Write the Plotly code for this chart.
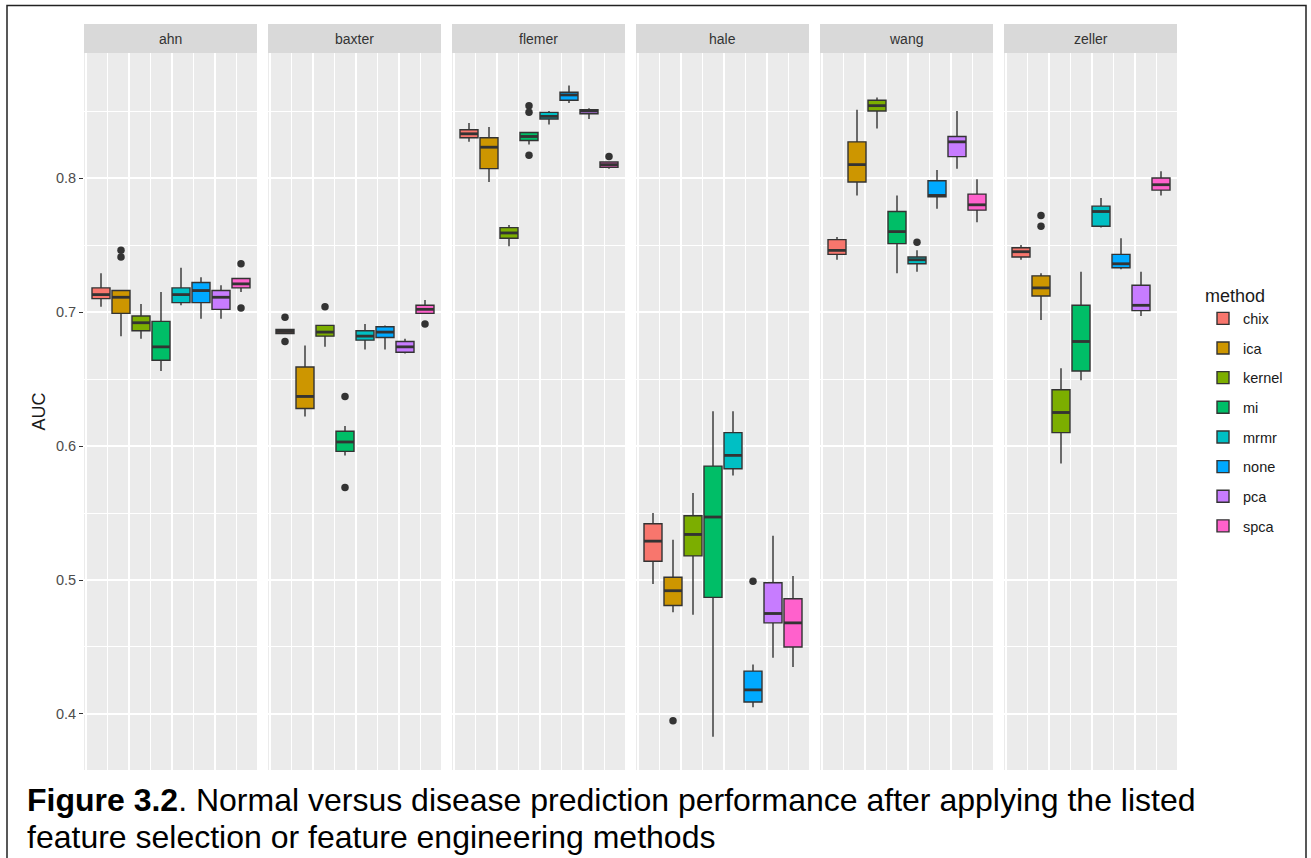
import plotly.graph_objects as go

DATASETS = ["ahn", "baxter", "flemer", "hale", "wang", "zeller"]
METHODS = ["chix", "ica", "kernel", "mi", "mrmr", "none", "pca", "spca"]
COLORS = ["#F8766D", "#CD9600", "#7CAE00", "#00BE67", "#00BFC4", "#00A9FF", "#C77CFF", "#FF61CC"]

# rows: datasets, columns: methods
LOWER = [
    [0.704, 0.682, 0.680, 0.656, 0.705, 0.695, 0.695, 0.715],
    [0.684, 0.622, 0.674, 0.593, 0.672, 0.672, 0.669, 0.699],
    [0.827, 0.797, 0.749, 0.825, 0.840, 0.856, 0.844, 0.807],
    [0.497, 0.476, 0.474, 0.383, 0.578, 0.405, 0.442, 0.435],
    [0.739, 0.787, 0.837, 0.729, 0.730, 0.777, 0.807, 0.767],
    [0.739, 0.694, 0.587, 0.649, 0.763, 0.732, 0.697, 0.787],
]
Q1 = [
    [0.710, 0.699, 0.686, 0.664, 0.707, 0.707, 0.702, 0.718],
    [0.684, 0.628, 0.682, 0.596, 0.679, 0.681, 0.670, 0.699],
    [0.830, 0.807, 0.755, 0.828, 0.844, 0.858, 0.848, 0.808],
    [0.514, 0.481, 0.518, 0.487, 0.583, 0.409, 0.468, 0.450],
    [0.743, 0.797, 0.850, 0.751, 0.736, 0.786, 0.816, 0.776],
    [0.741, 0.712, 0.610, 0.656, 0.764, 0.733, 0.701, 0.791],
]
MEDIAN = [
    [0.713, 0.711, 0.692, 0.674, 0.713, 0.716, 0.711, 0.721],
    [0.6855, 0.637, 0.685, 0.603, 0.682, 0.685, 0.674, 0.702],
    [0.833, 0.823, 0.759, 0.831, 0.846, 0.862, 0.850, 0.810],
    [0.529, 0.492, 0.534, 0.547, 0.593, 0.418, 0.475, 0.468],
    [0.746, 0.810, 0.854, 0.760, 0.739, 0.787, 0.827, 0.780],
    [0.745, 0.718, 0.625, 0.678, 0.775, 0.736, 0.705, 0.795],
]
Q3 = [
    [0.718, 0.716, 0.697, 0.693, 0.718, 0.722, 0.716, 0.725],
    [0.687, 0.659, 0.690, 0.611, 0.686, 0.689, 0.678, 0.705],
    [0.836, 0.830, 0.763, 0.834, 0.849, 0.864, 0.851, 0.812],
    [0.542, 0.502, 0.548, 0.585, 0.610, 0.432, 0.498, 0.486],
    [0.754, 0.827, 0.858, 0.775, 0.741, 0.798, 0.831, 0.788],
    [0.748, 0.727, 0.642, 0.705, 0.779, 0.743, 0.720, 0.800],
]
UPPER = [
    [0.729, 0.716, 0.706, 0.715, 0.733, 0.726, 0.720, 0.725],
    [0.687, 0.675, 0.690, 0.615, 0.691, 0.690, 0.680, 0.709],
    [0.841, 0.838, 0.765, 0.834, 0.850, 0.869, 0.852, 0.812],
    [0.550, 0.530, 0.565, 0.626, 0.626, 0.437, 0.533, 0.503],
    [0.756, 0.851, 0.860, 0.787, 0.746, 0.806, 0.850, 0.799],
    [0.750, 0.729, 0.658, 0.730, 0.785, 0.755, 0.730, 0.805],
]
OUTLIERS = [
    [[], [0.746, 0.741], [], [], [], [], [], [0.736, 0.703]],
    [[0.696, 0.678], [], [0.704], [0.637, 0.569], [], [], [], [0.691]],
    [[], [], [], [0.854, 0.849, 0.817], [], [], [], [0.816]],
    [[], [0.395], [], [], [], [0.499], [], []],
    [[], [], [], [], [0.752], [], [], []],
    [[], [0.772, 0.764], [], [], [], [], [], []],
]
Y_TICKS = [0.4, 0.5, 0.6, 0.7, 0.8]
CAPTION_LINES = [
    "<b>Figure 3.2</b>. Normal versus disease prediction performance after applying the listed",
    "feature selection or feature engineering methods",
]

W, H = 1311, 858
FONT = "Liberation Sans, Arial, Helvetica, sans-serif"
EDGE = "#333333"
BOXW = 0.9

panel_left = [84 + 184 * i for i in range(6)]
panel_w = 173
y_dom = [1 - 770 / H, 1 - 53 / H]
strip = [1 - 53 / H, 1 - 24 / H]

fig = go.Figure()
positions = list(range(1, len(METHODS) + 1))

for d, ds in enumerate(DATASETS):
    ax = "" if d == 0 else str(d + 1)
    xa, ya = "x" + ax, "y" + ax
    for m, meth in enumerate(METHODS):
        fig.add_trace(go.Box(
            x=[positions[m]], q1=[Q1[d][m]], median=[MEDIAN[d][m]], q3=[Q3[d][m]],
            lowerfence=[LOWER[d][m]], upperfence=[UPPER[d][m]],
            width=BOXW, whiskerwidth=0, fillcolor=COLORS[m],
            line=dict(color=EDGE, width=1.4), boxpoints=False,
            name=meth, legendgroup=meth, showlegend=(d == 0),
            xaxis=xa, yaxis=ya, hoverinfo="skip",
        ))
    # thicker median segments (ggplot fatten)
    mx, my = [], []
    for m in range(len(METHODS)):
        mx += [positions[m] - BOXW / 2, positions[m] + BOXW / 2, None]
        my += [MEDIAN[d][m], MEDIAN[d][m], None]
    fig.add_trace(go.Scatter(x=mx, y=my, mode="lines", line=dict(color=EDGE, width=2.8),
                             showlegend=False, xaxis=xa, yaxis=ya, hoverinfo="skip"))
    ox, oy = [], []
    for m in range(len(METHODS)):
        for v in OUTLIERS[d][m]:
            ox.append(positions[m])
            oy.append(v)
    fig.add_trace(go.Scatter(x=ox, y=oy, mode="markers",
                             marker=dict(color=EDGE, size=7.5, line=dict(width=0)),
                             showlegend=False, xaxis=xa, yaxis=ya, hoverinfo="skip"))

layout = dict(
    width=W, height=H, margin=dict(l=0, r=0, t=0, b=0),
    paper_bgcolor="white", plot_bgcolor="#EBEBEB",
    boxmode="overlay", font=dict(family=FONT, color="#1a1a1a"),
    showlegend=True,
)
for d in range(6):
    ax = "" if d == 0 else str(d + 1)
    x0 = panel_left[d] / W
    x1 = (panel_left[d] + panel_w) / W
    layout["xaxis" + ax] = dict(
        domain=[x0, x1], range=[0.15, 8.8], anchor="y" + ax,
        showticklabels=False, ticks="", zeroline=False, showline=False,
        tickmode="linear", tick0=0.25, dtick=2.15,
        showgrid=True, gridcolor="white", gridwidth=1.6,
        minor=dict(tickmode="linear", tick0=0.25, dtick=1.075, showgrid=True,
                   gridcolor="white", gridwidth=0.8),
    )
    ydict = dict(
        domain=y_dom, range=[0.3582, 0.8933], anchor="x" + ax,
        zeroline=False, showline=False,
        tickmode="array", tickvals=Y_TICKS,
        showgrid=True, gridcolor="white", gridwidth=1.6,
        minor=dict(tickmode="linear", tick0=0.35, dtick=0.1, showgrid=True,
                   gridcolor="white", gridwidth=0.8),
    )
    if d == 0:
        ydict.update(ticks="outside", ticklen=4, tickwidth=1.4, tickcolor=EDGE,
                     tickfont=dict(size=14.5, color="#4d4d4d", family=FONT),
                     title=dict(text="AUC", font=dict(size=18, color="#1a1a1a", family=FONT), standoff=5))
    else:
        ydict.update(showticklabels=False, ticks="", matches="y")
    layout["yaxis" + ax] = ydict

shapes = []
annotations = []
for d, ds in enumerate(DATASETS):
    x0 = panel_left[d] / W
    x1 = (panel_left[d] + panel_w) / W
    shapes.append(dict(type="rect", xref="paper", yref="paper", x0=x0, x1=x1,
                       y0=strip[0], y1=strip[1], fillcolor="#D9D9D9", line=dict(width=0), layer="below"))
    annotations.append(dict(text=ds, xref="paper", yref="paper", x=(x0 + x1) / 2,
                            y=(strip[0] + strip[1]) / 2, showarrow=False,
                            font=dict(size=14, color="#333333", family=FONT),
                            xanchor="center", yanchor="middle"))
# outer frame
shapes.append(dict(type="rect", xref="paper", yref="paper", x0=7 / W, x1=1306 / W,
                   y0=-0.05, y1=1 - 5.5 / H, line=dict(color="#222222", width=1.5),
                   fillcolor="rgba(0,0,0,0)"))
for i, (line_text, yc) in enumerate(zip(CAPTION_LINES, [800, 837])):
    annotations.append(dict(text=line_text, xref="paper", yref="paper", x=25 / W, y=1 - yc / H,
                            xanchor="left", yanchor="middle", align="left", showarrow=False,
                            font=dict(size=32, color="black", family=FONT)))
layout["shapes"] = shapes
layout["annotations"] = annotations
layout["legend"] = dict(
    x=1203 / W, y=1 - 279 / H, xanchor="left", yanchor="top",
    title=dict(text="method", font=dict(size=18, color="#1a1a1a", family=FONT)),
    font=dict(size=14.5, color="#1a1a1a", family=FONT),
    tracegroupgap=7.8, bgcolor="white",
)
fig.update_layout(**layout)
fig.write_html("out.html")
